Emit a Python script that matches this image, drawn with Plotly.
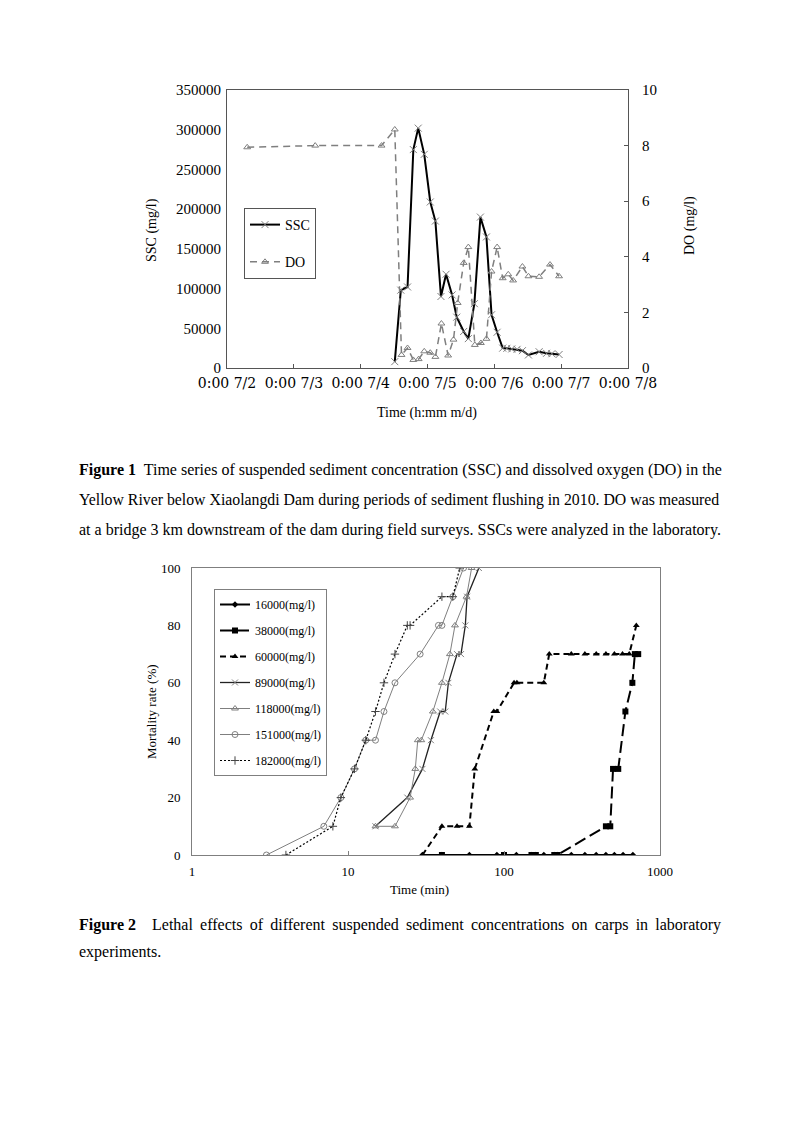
import plotly.graph_objects as go

# ---------------- Figure 1 data ----------------
ssc_time = ["2010-07-04 12:15", "2010-07-04 14:25", "2010-07-04 16:50", "2010-07-04 18:55",
            "2010-07-04 20:40", "2010-07-04 22:50", "2010-07-05 01:00", "2010-07-05 02:50",
            "2010-07-05 04:50", "2010-07-05 06:40", "2010-07-05 08:50", "2010-07-05 10:30",
            "2010-07-05 13:00", "2010-07-05 14:40", "2010-07-05 16:50", "2010-07-05 19:00",
            "2010-07-05 21:10", "2010-07-05 23:00", "2010-07-06 01:00", "2010-07-06 03:00",
            "2010-07-06 04:30", "2010-07-06 06:15", "2010-07-06 08:10", "2010-07-06 10:05",
            "2010-07-06 12:15", "2010-07-06 16:05", "2010-07-06 18:45", "2010-07-06 20:40",
            "2010-07-06 23:15"]
ssc_value = [8000, 98000, 102000, 275000, 302000, 269000, 209000, 185000, 90000, 118000,
             92000, 64000, 46000, 37000, 81000, 190000, 165000, 67000, 45000, 25000,
             24800, 24000, 23500, 21800, 16400, 20500, 18500, 18000, 17000]

do_time = ["2010-07-02 07:15", "2010-07-03 07:40", "2010-07-04 07:30", "2010-07-04 12:15",
           "2010-07-04 14:40", "2010-07-04 16:50", "2010-07-04 18:55", "2010-07-04 20:50",
           "2010-07-04 22:50", "2010-07-05 01:00", "2010-07-05 02:50", "2010-07-05 05:00",
           "2010-07-05 07:25", "2010-07-05 09:20", "2010-07-05 10:50", "2010-07-05 13:00",
           "2010-07-05 14:40", "2010-07-05 17:00", "2010-07-05 19:10", "2010-07-05 21:10",
           "2010-07-05 23:00", "2010-07-06 01:00", "2010-07-06 03:00", "2010-07-06 05:00",
           "2010-07-06 06:45", "2010-07-06 10:05", "2010-07-06 12:15", "2010-07-06 16:05",
           "2010-07-06 20:00", "2010-07-06 23:15"]
do_value = [7.94, 8.0, 8.0, 8.58, 0.47, 0.72, 0.29, 0.32, 0.6, 0.55, 0.40, 1.6, 0.45, 1.02,
            2.34, 3.78, 4.35, 0.83, 0.90, 1.05, 3.47, 4.35, 3.23, 3.37, 3.15, 3.65, 3.30,
            3.28, 3.72, 3.30]

time_ticks = ["2010-07-02", "2010-07-03", "2010-07-04", "2010-07-05", "2010-07-06",
              "2010-07-07", "2010-07-08"]
time_ticktext = ["0:00 7/2", "0:00 7/3", "0:00 7/4", "0:00 7/5", "0:00 7/6", "0:00 7/7",
                 "0:00 7/8"]
ssc_ticks = [0, 50000, 100000, 150000, 200000, 250000, 300000, 350000]
do_ticks = [0, 2, 4, 6, 8, 10]

# ---------------- Figure 2 data ----------------
t16000 = [30, 40, 60, 90, 100, 120, 150, 160, 180, 210, 220, 270, 330, 390, 450, 510, 580, 670]
m16000 = [0] * len(t16000)
t38000 = [40, 100, 150, 160, 210, 220, 450, 480, 500, 540, 600, 665, 690, 725]
m38000 = [0, 0, 0, 0, 0, 0, 10, 10, 30, 30, 50, 60, 70, 70]
t60000 = [30, 40, 50, 60, 65, 86, 90, 116, 121, 180, 195, 270, 330, 390, 450, 510, 575, 635, 705]
m60000 = [0, 10, 10, 10, 30, 50, 50, 60, 60, 60, 70, 70, 70, 70, 70, 70, 70, 70, 80]
t89000 = [15, 24, 30, 34, 39, 42, 44, 50, 53, 56.5, 58, 69]
m89000 = [10, 20, 30, 40, 50, 50, 60, 70, 70, 80, 90, 100]
t118000 = [15, 20, 25, 27, 28, 29.5, 35, 40, 45, 48.5, 57.5, 62]
m118000 = [10, 10, 20, 30, 40, 40, 50, 60, 70, 80, 90, 100]
t151000 = [3, 7, 9, 11, 13, 15, 17, 20, 29, 38, 40, 47, 55]
m151000 = [0, 10, 20, 30, 40, 40, 50, 60, 70, 80, 80, 90, 100]
t182000 = [4, 8, 9, 11, 13, 15, 17, 20, 24, 25, 40, 47, 52]
m182000 = [0, 10, 20, 30, 40, 50, 60, 70, 80, 80, 90, 90, 100]

min_ticks = [1, 10, 100, 1000]
min_ticktext = ["1", "10", "100", "1000"]
mort_ticks = [0, 20, 40, 60, 80, 100]

W, H = 793, 1122
FONT = "Liberation Serif"
GREY = "#7f7f7f"


def px(x):
    return x / W


def py(y):
    return 1 - y / H


fig = go.Figure()

# Figure 1 traces
fig.add_trace(go.Scatter(x=ssc_time, y=ssc_value, name="SSC", mode="lines+markers",
                         line=dict(color="black", width=2),
                         marker=dict(symbol="x-thin", size=7, line=dict(color=GREY, width=1)),
                         xaxis="x", yaxis="y", legend="legend", legendgroup="a"))
fig.add_trace(go.Scatter(x=do_time, y=do_value, name="DO", mode="lines+markers",
                         line=dict(color=GREY, width=1.5, dash="7px,5px"),
                         marker=dict(symbol="triangle-up-open", size=6, color=GREY,
                                     line=dict(color=GREY, width=1)),
                         xaxis="x", yaxis="y2", legend="legend", legendgroup="b"))

# Figure 2 traces
series = [
    ("16000(mg/l)", t16000, m16000, dict(color="black", width=2), dict(symbol="diamond", size=5, color="black")),
    ("38000(mg/l)", t38000, m38000, dict(color="black", width=2, dash="12px,5px"), dict(symbol="square", size=6, color="black")),
    ("60000(mg/l)", t60000, m60000, dict(color="black", width=2, dash="6px,4px"), dict(symbol="triangle-up", size=6, color="black")),
    ("89000(mg/l)", t89000, m89000, dict(color="#222222", width=1.3), dict(symbol="x-thin", size=6, line=dict(color=GREY, width=1))),
    ("118000(mg/l)", t118000, m118000, dict(color=GREY, width=1), dict(symbol="triangle-up-open", size=6, color=GREY)),
    ("151000(mg/l)", t151000, m151000, dict(color=GREY, width=1), dict(symbol="circle-open", size=6, color=GREY)),
    ("182000(mg/l)", t182000, m182000, dict(color="black", width=1.2, dash="2px,2px"), dict(symbol="cross-thin", size=6, line=dict(color="#444444", width=1))),
]
for i, (nm, tx, my, ln, mk) in enumerate(series):
    fig.add_trace(go.Scatter(x=tx, y=my, name=nm, mode="lines+markers", line=ln, marker=mk,
                             xaxis="x2", yaxis="y3", legend="legend2", legendgroup="g%d" % i))

axis_common = dict(showgrid=False, zeroline=False, showline=True, linecolor="#555555",
                   linewidth=1, ticklen=4, tickcolor="#555555", automargin=False)
tf15 = dict(family=FONT, size=15, color="black")

fig.update_layout(
    width=W, height=H, margin=dict(l=0, r=0, t=0, b=0, pad=0, autoexpand=False),
    paper_bgcolor="white", plot_bgcolor="white",
    font=dict(family=FONT, color="black"),
    xaxis=dict(**axis_common, ticks="inside",
               tickfont=dict(family="DejaVu Serif", size=14, color="black"), tickangle=0,
               type="date", domain=[px(227), px(628)], anchor="y",
               range=["2010-07-02", "2010-07-08"], tickvals=time_ticks, ticktext=time_ticktext,
               mirror=True, ticklabelstandoff=2),
    yaxis=dict(**axis_common, ticks="", tickfont=tf15, domain=[py(368), py(90)], anchor="x",
               range=[0, 350000], tickvals=ssc_ticks, ticktext=[str(v) for v in ssc_ticks],
               ticklabelstandoff=2),
    yaxis2=dict(**axis_common, ticks="inside", tickfont=tf15, overlaying="y", side="right",
                anchor="x", range=[0, 10], tickvals=do_ticks, ticklabelstandoff=10),
    xaxis2=dict(showgrid=False, zeroline=False, showline=True, linecolor=GREY, mirror=True,
                ticks="inside", ticklen=4, tickcolor=GREY, type="log", range=[0, 3],
                automargin=False, ticklabelstandoff=4, tickangle=0,
                domain=[px(192), px(660)], anchor="y3", tickvals=min_ticks,
                ticktext=min_ticktext, tickfont=dict(family=FONT, size=13, color="black")),
    yaxis3=dict(showgrid=False, zeroline=False, showline=True, linecolor=GREY, mirror=True,
                ticks="", range=[0, 100], domain=[py(855), py(568)], anchor="x2",
                automargin=False, ticklabelstandoff=8,
                tickvals=mort_ticks, tickfont=dict(family=FONT, size=13, color="black")),
    legend=dict(x=px(244), y=py(208), xanchor="left", yanchor="top", bgcolor="white",
                bordercolor="#555555", borderwidth=1, font=dict(family=FONT, size=14),
                tracegroupgap=16, itemwidth=30),
    legend2=dict(x=px(214), y=py(589), xanchor="left", yanchor="top", bgcolor="white",
                 bordercolor=GREY, borderwidth=1, font=dict(family=FONT, size=12),
                 tracegroupgap=7, itemwidth=30),
    showlegend=True,
)

ann = []
ann.append(dict(text="SSC (mg/l)", x=px(152), y=py(230), textangle=-90, font=dict(size=14)))
ann.append(dict(text="DO (mg/l)", x=px(690), y=py(226), textangle=-90, font=dict(size=14)))
ann.append(dict(text="Time (h:mm m/d)", x=px(427), y=py(413), font=dict(size=14)))
ann.append(dict(text="Mortality rate (%)", x=px(152), y=py(712), textangle=-90, font=dict(size=13)))
ann.append(dict(text="Time (min)", x=px(420), y=py(889), font=dict(size=13)))

cap = 16
TS = "\u2009"
fig2_words = "Lethal effects of different suspended sediment concentrations on carps in laboratory"
ann.append(dict(text="<b>Figure 1</b>  Time series of suspended sediment concentration (SSC) and dissolved oxygen (DO) in the",
                x=px(77), y=py(470), xanchor="left", font=dict(size=cap)))
ann.append(dict(text="Yellow River below Xiaolangdi Dam during periods of sediment flushing in 2010. DO was measured",
                x=px(77), y=py(500), xanchor="left", font=dict(size=15.8)))
ann.append(dict(text="at a bridge 3 km downstream of the dam during field surveys. SSCs were analyzed in the laboratory.",
                x=px(77), y=py(530), xanchor="left", font=dict(size=cap)))
ann.append(dict(text="<b>Figure 2</b>    " + fig2_words.replace(" ", " " + TS),
                x=px(77), y=py(925), xanchor="left", font=dict(size=cap)))
ann.append(dict(text="experiments.", x=px(77), y=py(952), xanchor="left", font=dict(size=cap)))

for a in ann:
    a.setdefault("xanchor", "center")
    a.update(xref="paper", yref="paper", showarrow=False, yanchor="middle")
    a["font"] = dict(family=FONT, color="black", **a["font"])
fig.update_layout(annotations=ann)

fig.write_html("out.html", config={"displayModeBar": False},
               post_script="document.body.style.margin='0';")
